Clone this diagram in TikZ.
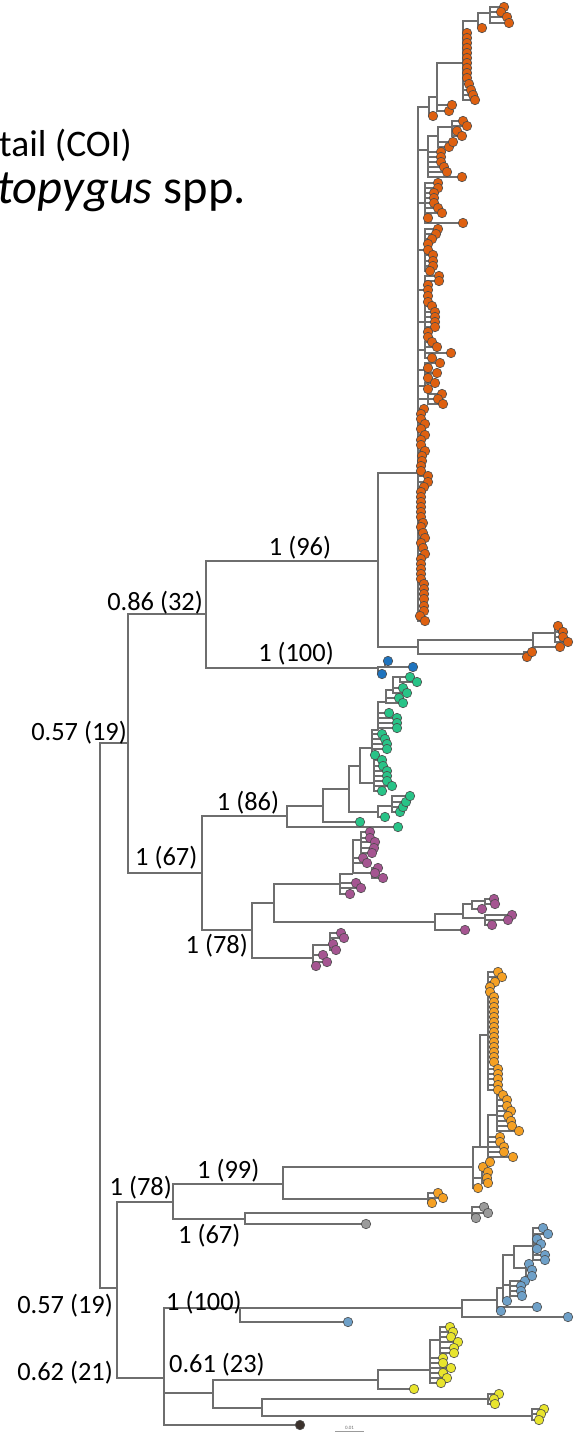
\documentclass[tikz,border=0pt]{standalone}
\usepackage{fontspec}
\setmainfont{Carlito}
\usepackage{xcolor}
\usepackage{etoolbox}

\definecolor{treegray}{RGB}{110,110,110}
\definecolor{rust}{RGB}{222,96,16}
\definecolor{cobalt}{RGB}{30,115,190}
\definecolor{jade}{RGB}{40,195,135}
\definecolor{plum}{RGB}{165,85,145}
\definecolor{amber}{RGB}{245,160,35}
\definecolor{ash}{RGB}{155,155,155}
\definecolor{steel}{RGB}{110,160,200}
\definecolor{lemon}{RGB}{232,228,45}
\definecolor{soot}{RGB}{60,50,45}

% tips are queued so that they are drawn over all branches
\newcommand{\dotqueue}{}
% parent, colour, list of x/y tips
\newcommand{\leaves}[3]{%
  \foreach \lx/\ly in {#3}{%
    \coordinate (lf) at (\lx,\ly);
    \draw[branch] (#1) |- (lf);
    \xappto\dotqueue{\noexpand\node[leaf,fill=#2] (t\lx x\ly) at (\lx,\ly) {};}
  }}

\begin{document}
\begin{tikzpicture}[x=1pt,y=-1pt]
\tikzstyle{branch} = [draw=treegray, line width=1.1pt]
\tikzstyle{leaf} = [circle, draw=black!70, line width=0.6pt, minimum size=9.5pt, inner sep=0pt]
\tikzstyle{support} = [font=\fontsize{26.4}{30}\selectfont, inner sep=0pt]

\useasboundingbox (0,0) rectangle (583,1440);
\fill[white] (0,0) rectangle (583,1440);

% title
\node[anchor=base west, inner sep=0pt, font=\fontsize{37.5}{42}\selectfont] (title1) at (-1,156) {tail (COI)};
\node[anchor=base west, inner sep=0pt, font=\fontsize{48.5}{52}\selectfont] (title2) at (-3,203) {\textit{topygus} spp.};

% backbone
\coordinate (r0) at (100,1015);
\coordinate (nA) at (128,743);
\coordinate (nD) at (117,1288);
\coordinate (nB) at (206,614);
\coordinate (nC) at (202,873);
\coordinate (nO) at (378,561);
\coordinate (nBl) at (378,668);
\coordinate (nE) at (173,1202);
\coordinate (nF) at (164,1378);
\draw[branch] (r0) |- (nA);
\draw[branch] (r0) |- (nD);
\draw[branch] (nA) |- (nB);
\draw[branch] (nA) |- (nC);
\draw[branch] (nB) |- (nO);
\draw[branch] (nB) |- (nBl);
\draw[branch] (nD) |- (nE);
\draw[branch] (nD) |- (nF);

% dark orange clade
\coordinate (nO1) at (418,473);
\coordinate (nO2) at (418,647);
\draw[branch] (nO) |- (nO1);
\draw[branch] (nO) |- (nO2);
\coordinate (S1) at (429,107);
\coordinate (S1a) at (437,97);
\coordinate (S1c) at (463,63);
\coordinate (S1d) at (478,21);
\coordinate (S1e) at (490,13);
\coordinate (S2) at (428,150);
\coordinate (S2a) at (438,136);
\coordinate (S2b) at (452,127);
\coordinate (S3) at (425,203);
\coordinate (S4) at (425,250);
\coordinate (S5) at (425,290);
\coordinate (S6) at (425,322);
\coordinate (S7) at (425,350);
\coordinate (S8) at (425,370);
\coordinate (S9) at (425,386);
\coordinate (S10) at (428,399);
\foreach \s in {S1,S2,S3,S4,S5,S6,S7,S8,S9,S10}
  \draw[branch] (nO1) |- (\s);
\draw[branch] (S1) |- (S1a);
\draw[branch] (S1a) |- (S1c);
\draw[branch] (S1c) |- (S1d);
\draw[branch] (S1d) |- (S1e);
\draw[branch] (S2) |- (S2a);
\draw[branch] (S2a) |- (S2b);
\leaves{S1}{rust}{433/116}
\leaves{S1a}{rust}{449/111,452/105}
\leaves{S1c}{rust}{467/33,467/38,467/43,467/48,467/53,467/58,467/63,467/68,467/73,467/78,469/84,471/90,473/95,475/100}
\leaves{S1d}{rust}{482/28}
\leaves{S1e}{rust}{504/7,501/12,507/17,509/23}
\leaves{S2}{rust}{441/152,441/157,441/162,444/167,447/172,462/177}
\leaves{S2a}{rust}{449/147,453/142}
\leaves{S2b}{rust}{463/121,467/126,457/131,462/136}
\leaves{S3}{rust}{438/183,438/188,434/193,434/198,434/203,438/208,442/213,428/218,463/223}
\leaves{S4}{rust}{438/229,436/234,432/239,428/244,428/250,433/255,433/261,433/266,430/271}
\leaves{S5}{rust}{439/276,439/281,428/285,428/290,428/296,428/302}
\leaves{S6}{rust}{432/306,435/312,435/317,435/322,435/327,428/332,428/337}
\leaves{S7}{rust}{432/342,437/347,451/353,432/358}
\leaves{S8}{rust}{440/363,428/368,437/373,428/378}
\leaves{S9}{rust}{435/383,428/389}
\leaves{S10}{rust}{442/394,438/399,443/404}
\leaves{nO1}{rust}{424/409,421/414,421/419,425/424,421/429,425/435,421/440,421/445,425/451,422/456,422/461,421/466,421/471,428/476,428/482,424/487,421/492,421/497,421/502,421/507,421/512,421/517,423/523,421/527,423/533,425/538,421/543,423/548,425/554,421/559,421/564,421/569,421/574,421/579,424/584,424/589,424/594,424/599,424/606,424/611,420/616,425/621}
\coordinate (nO21) at (533,640);
\coordinate (nO22) at (524,654);
\coordinate (nO23) at (555,633);
\draw[branch] (nO2) |- (nO21);
\draw[branch] (nO2) |- (nO22);
\draw[branch] (nO21) |- (nO23);
\leaves{nO22}{rust}{527/657,532/652}
\leaves{nO21}{rust}{560/647}
\leaves{nO23}{rust}{558/626,563/632,563/637,568/642}

% blue clade
\coordinate (nBl2) at (385,667);
\draw[branch] (nBl) |- (nBl2);
\leaves{nBl}{cobalt}{382/674}
\leaves{nBl2}{cobalt}{388/661,413/667}

% green clade
\coordinate (nG) at (287,816);
\coordinate (g1) at (323,806);
\coordinate (g2) at (349,789);
\coordinate (g3) at (360,766);
\coordinate (g4) at (372,748);
\coordinate (g5) at (374,783);
\coordinate (g7) at (378,730);
\coordinate (g8) at (386,702);
\coordinate (g8a) at (393,690);
\coordinate (g8b) at (400,677);
\coordinate (g9) at (378,812);
\coordinate (g9a) at (392,806);
\draw[branch] (nC) |- (nG);
\draw[branch] (nG) |- (g1);
\draw[branch] (g1) |- (g2);
\draw[branch] (g2) |- (g3);
\draw[branch] (g2) |- (g9);
\draw[branch] (g3) |- (g4);
\draw[branch] (g3) |- (g5);
\draw[branch] (g4) |- (g7);
\draw[branch] (g7) |- (g8);
\draw[branch] (g8) |- (g8a);
\draw[branch] (g8a) |- (g8b);
\draw[branch] (g9) |- (g9a);
\leaves{nG}{jade}{398/827}
\leaves{g1}{jade}{360/822}
\leaves{g4}{jade}{382/734,385/739,387/744,387/749,375/755}
\leaves{g5}{jade}{382/760,383/766,387/771,387/776,387/781,392/786,382/791}
\leaves{g7}{jade}{389/713,397/718,397/723,397/728}
\leaves{g8}{jade}{399/698,403/703}
\leaves{g8a}{jade}{403/688,407/693}
\leaves{g8b}{jade}{410/677,417/682}
\leaves{g9}{jade}{385/817}
\leaves{g9a}{jade}{400/812,403/807,406/802,410/796}

% purple clade
\coordinate (nP) at (252,930);
\coordinate (p1) at (274,903);
\coordinate (p3) at (340,884);
\coordinate (p4) at (435,922);
\coordinate (p5) at (353,874);
\coordinate (p6) at (361,840);
\coordinate (p7) at (372,873);
\coordinate (p8) at (463,914);
\coordinate (p9) at (472,904);
\coordinate (p10) at (485,918);
\coordinate (p11) at (485,901);
\coordinate (pb) at (313,958);
\coordinate (pb1) at (330,945);
\draw[branch] (nC) |- (nP);
\draw[branch] (nP) |- (p1);
\draw[branch] (nP) |- (pb);
\draw[branch] (p1) |- (p3);
\draw[branch] (p1) |- (p4);
\draw[branch] (p3) |- (p5);
\draw[branch] (p5) |- (p6);
\draw[branch] (p5) |- (p7);
\draw[branch] (p4) |- (p8);
\draw[branch] (p8) |- (p9);
\draw[branch] (p8) |- (p10);
\draw[branch] (p9) |- (p11);
\draw[branch] (pb) |- (pb1);
\leaves{p3}{plum}{356/883,361/888,350/894}
\leaves{p5}{plum}{363/858,367/863}
\leaves{p6}{plum}{370/832,370/838,375/842,374/848,372/853}
\leaves{p7}{plum}{378/868,375/873,383/878}
\leaves{p4}{plum}{465/930}
\leaves{p9}{plum}{482/909}
\leaves{p11}{plum}{494/899,495/904}
\leaves{p10}{plum}{512/915,508/920,492/925}
\leaves{pb}{plum}{316/966,323/955,327/962}
\leaves{pb1}{plum}{341/933,344/938,333/944,336/950}

% light orange and grey clades
\coordinate (nH) at (283,1184);
\coordinate (nGr) at (245,1219);
\coordinate (nLO) at (473,1167);
\coordinate (nLO1) at (480,1147);
\coordinate (nLO2) at (428,1199);
\coordinate (nLO3) at (482,1178);
\coordinate (nLO4) at (488,1035);
\coordinate (nLO5) at (488,1147);
\coordinate (nLO6) at (497,1115);
\coordinate (nGr1) at (472,1213);
\draw[branch] (nE) |- (nH);
\draw[branch] (nE) |- (nGr);
\draw[branch] (nH) |- (nLO);
\draw[branch] (nH) |- (nLO2);
\draw[branch] (nLO) |- (nLO1);
\draw[branch] (nLO) |- (nLO3);
\draw[branch] (nLO1) |- (nLO4);
\draw[branch] (nLO1) |- (nLO5);
\draw[branch] (nLO5) |- (nLO6);
\draw[branch] (nGr) |- (nGr1);
\leaves{nLO}{amber}{478/1188}
\leaves{nLO2}{amber}{438/1193,443/1198,432/1203}
\leaves{nLO3}{amber}{483/1167,488/1172,487/1178,488/1183}
\leaves{nLO4}{amber}{498/972,502/977,495/982,490/987,490/992,494/997,494/1002,494/1007,494/1012,494/1017,494/1022,494/1027,494/1032,494/1037,494/1042,494/1047,494/1052,494/1057,494/1062,498/1069,498/1074,498/1079,498/1085,498/1090}
\leaves{nLO5}{amber}{500/1137,500/1142,504/1147,504/1152,513/1157,490/1162}
\leaves{nLO6}{amber}{503/1095,507/1100,507/1106,511/1111,508/1116,511/1121,512/1126,519/1131}
\leaves{nGr}{ash}{366/1224}
\leaves{nGr1}{ash}{484/1207,488/1213,476/1218}

% steel blue clade
\coordinate (nLB) at (240,1308);
\coordinate (nLB1) at (462,1308);
\coordinate (lb2) at (497,1300);
\coordinate (lb3) at (503,1288);
\coordinate (lb4) at (514,1255);
\coordinate (lb5) at (510,1285);
\coordinate (lb6) at (533,1246);
\coordinate (lb7) at (526,1268);
\draw[branch] (nF) |- (nLB);
\draw[branch] (nLB) |- (nLB1);
\draw[branch] (nLB1) |- (lb2);
\draw[branch] (lb2) |- (lb3);
\draw[branch] (lb3) |- (lb4);
\draw[branch] (lb3) |- (lb5);
\draw[branch] (lb4) |- (lb6);
\draw[branch] (lb4) |- (lb7);
\leaves{nLB}{steel}{348/1322}
\leaves{nLB1}{steel}{568/1317}
\leaves{lb2}{steel}{537/1307,501/1311}
\leaves{lb3}{steel}{507/1301}
\leaves{lb5}{steel}{525/1281,521/1286,521/1291,522/1296}
\leaves{lb6}{steel}{543/1228,548/1234,537/1239,541/1244,537/1249,545/1255,545/1260}
\leaves{lb7}{steel}{529/1264,532/1270,532/1276}

% yellow clade and outgroup
\coordinate (nY) at (213,1393);
\coordinate (nY1) at (378,1380);
\coordinate (nY2) at (262,1408);
\coordinate (nY3) at (430,1370);
\coordinate (nY4) at (440,1340);
\coordinate (nY5) at (488,1399);
\coordinate (nY6) at (532,1416);
\draw[branch] (nF) |- (nY);
\draw[branch] (nY) |- (nY1);
\draw[branch] (nY) |- (nY2);
\draw[branch] (nY1) |- (nY3);
\draw[branch] (nY3) |- (nY4);
\draw[branch] (nY2) |- (nY5);
\draw[branch] (nY2) |- (nY6);
\leaves{nY1}{lemon}{414/1389}
\leaves{nY3}{lemon}{443/1358,443/1363,451/1368,443/1373,447/1378,441/1383}
\leaves{nY4}{lemon}{450/1327,453/1332,451/1337,458/1342,454/1348,454/1353}
\leaves{nY5}{lemon}{499/1394,494/1399,495/1404}
\leaves{nY6}{lemon}{544/1409,541/1414,539/1420}
\leaves{nF}{soot}{300/1425}

% all tip dots on top
\dotqueue

% support values
\node[support, anchor=base east] (sA) at (127,740) {0.57 (19)};
\node[support, anchor=base east] (sB) at (203,610) {0.86 (32)};
\node[support, anchor=base] (sO) at (300,555) {1 (96)};
\node[support, anchor=base] (sBl) at (296,661) {1 (100)};
\node[support, anchor=base west] (sC) at (135,865) {1 (67)};
\node[support, anchor=base] (sG) at (248,810) {1 (86)};
\node[support, anchor=base east] (sP) at (248,953) {1 (78)};
\node[support, anchor=base east] (sE) at (172,1195) {1 (78)};
\node[support, anchor=base west] (sH) at (197,1178) {1 (99)};
\node[support, anchor=base west] (sGr) at (178,1243) {1 (67)};
\node[support, anchor=base east] (sD) at (113,1313) {0.57 (19)};
\node[support, anchor=base west] (sLB) at (166,1310) {1 (100)};
\node[support, anchor=base west] (sY) at (169,1372) {0.61 (23)};
\node[support, anchor=base east] (sF) at (113,1380) {0.62 (21)};

% scale bar
\coordinate (sb1) at (335,1431);
\coordinate (sb2) at (364,1431);
\draw[ash, line width=0.8pt] (sb1) -- (sb2);
\node[font=\fontsize{5}{6}\selectfont, text=treegray, anchor=south, inner sep=1pt] (sbl) at (349.5,1431) {0.01};
\end{tikzpicture}
\end{document}
